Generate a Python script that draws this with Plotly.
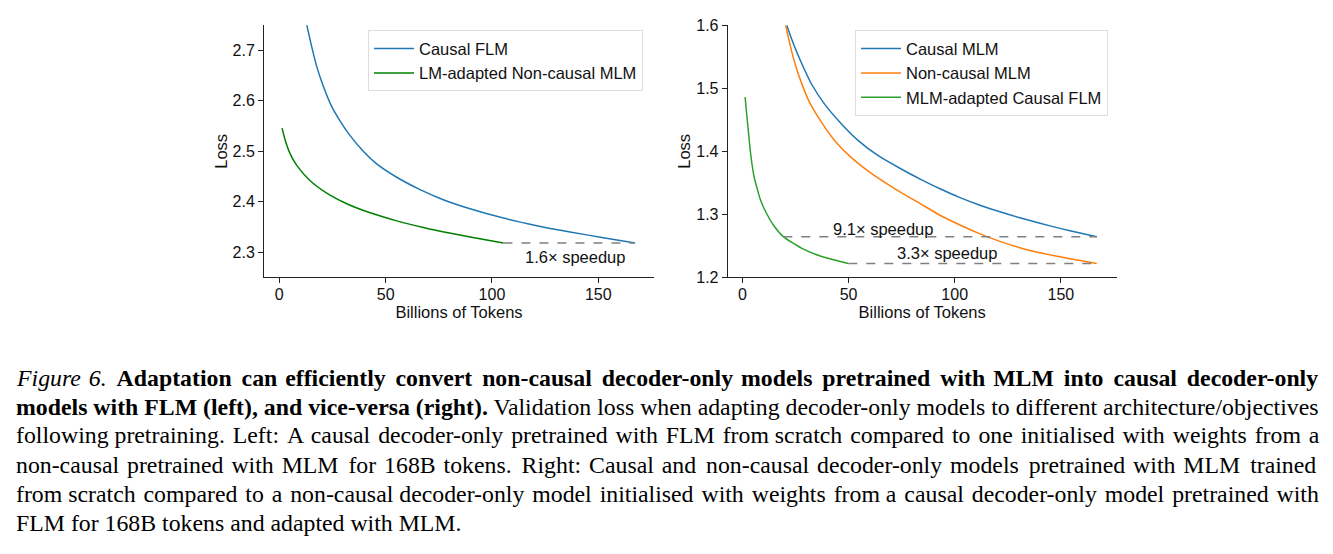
import plotly.graph_objects as go

# left panel: causal FLM vs LM-adapted non-causal MLM
left_flm_x = [12.9, 15.2, 17.6, 20.7, 24.6, 28.6, 33.3, 39.5, 45.8, 55.2, 66.2, 77.1, 89.7, 105.4, 121.1, 136.7, 152.4, 167.3]
left_flm_y = [2.751, 2.708, 2.668, 2.629, 2.589, 2.560, 2.531, 2.500, 2.475, 2.4485, 2.424, 2.404, 2.386, 2.3675, 2.3525, 2.340, 2.3285, 2.318]
left_ada_x = [1.3, 2.7, 5.0, 8.2, 14.4, 22.3, 31.7, 42.7, 55.2, 67.7, 80.0, 89.7, 105.4]
left_ada_y = [2.546, 2.523, 2.496, 2.472, 2.442, 2.417, 2.396, 2.378, 2.362, 2.349, 2.338, 2.330, 2.318]

# right panel: causal MLM, non-causal MLM, MLM-adapted causal FLM
right_cmlm_x = [20.9, 24.0, 28.0, 32.7, 38.9, 46.8, 54.6, 64.0, 75.0, 84.0, 93.1, 102.5, 111.9, 121.3, 130.7, 140.2, 149.6, 159.0, 166.9]
right_cmlm_y = [1.600, 1.571, 1.539, 1.506, 1.474, 1.443, 1.417, 1.393, 1.3715, 1.3555, 1.3405, 1.3265, 1.3145, 1.3040, 1.2945, 1.2857, 1.2777, 1.2703, 1.2645]
right_nmlm_x = [20.4, 22.5, 24.8, 28.0, 31.9, 37.4, 43.6, 51.5, 60.9, 71.9, 84.5, 93.1, 102.5, 111.9, 121.3, 130.7, 140.2, 149.6, 159.0, 166.9]
right_nmlm_y = [1.600, 1.5685, 1.539, 1.507, 1.476, 1.4455, 1.4165, 1.3895, 1.3645, 1.3405, 1.3155, 1.2985, 1.2830, 1.2690, 1.2570, 1.2470, 1.2390, 1.2325, 1.2267, 1.2220]
right_ada_x = [1.3, 2.0, 2.8, 3.6, 4.4, 5.5, 6.8, 8.5, 10.7, 14.6, 19.3, 28.0, 37.4, 49.9]
right_ada_y = [1.486, 1.460, 1.433, 1.405, 1.383, 1.360, 1.343, 1.323, 1.306, 1.283, 1.2645, 1.246, 1.233, 1.222]

x_ticks = [0, 50, 100, 150]
left_y_ticks = [2.3, 2.4, 2.5, 2.6, 2.7]
right_y_ticks = [1.2, 1.3, 1.4, 1.5, 1.6]

caption_lines = [
    "<i>Figure 6.</i> <b>Adaptation can efficiently convert non-causal decoder-only models pretrained with MLM into causal decoder-only</b>",
    "<b>models with FLM (left), and vice-versa (right).</b> Validation loss when adapting decoder-only models to different architecture/objectives",
    "following pretraining. Left: A causal decoder-only pretrained with FLM from scratch compared to one initialised with weights from a",
    "non-causal pretrained with MLM for 168B tokens. Right: Causal and non-causal decoder-only models pretrained with MLM trained",
    "from scratch compared to a non-causal decoder-only model initialised with weights from a causal decoder-only model pretrained with",
    "FLM for 168B tokens and adapted with MLM.",
]
# hair spaces added per line so the paragraph looks justified
caption_pad = [24, 0, 16, 21, 14, 0]
caption_y = [379, 408.3, 436.7, 466.7, 495.7, 525]

W, H = 1317, 538


def px(x):
    return (x - 8) / W


def py(y):
    return 1 - ((y - 15.7) / 0.972) / H


def spread(text, n):
    words = text.split(" ")
    gaps = len(words) - 1
    out = words[0]
    for i in range(gaps):
        extra = (i + 1) * n // gaps - i * n // gaps
        out += " " + "\u200a" * extra + words[i + 1]
    return out


font = "Liberation Sans, Arial, sans-serif"
spl = dict(width=1.5, shape="spline", smoothing=0.6)

fig = go.Figure()

fig.add_trace(go.Scatter(x=left_flm_x, y=left_flm_y, mode="lines", name="Causal FLM",
                         line=dict(color="#1f77b4", **spl), legend="legend"))
fig.add_trace(go.Scatter(x=left_ada_x, y=left_ada_y, mode="lines", name="LM-adapted Non-causal MLM",
                         line=dict(color="green", **spl), legend="legend"))
fig.add_trace(go.Scatter(x=[left_ada_x[-1], left_flm_x[-1]], y=[left_flm_y[-1]] * 2, mode="lines",
                         line=dict(color="gray", width=1.5, dash="dash"), showlegend=False))

fig.add_trace(go.Scatter(x=right_cmlm_x, y=right_cmlm_y, mode="lines", name="Causal MLM",
                         line=dict(color="#1f77b4", **spl), xaxis="x2", yaxis="y2", legend="legend2"))
fig.add_trace(go.Scatter(x=right_nmlm_x, y=right_nmlm_y, mode="lines", name="Non-causal MLM",
                         line=dict(color="#ff7f0e", **spl), xaxis="x2", yaxis="y2", legend="legend2"))
fig.add_trace(go.Scatter(x=right_ada_x, y=right_ada_y, mode="lines", name="MLM-adapted Causal FLM",
                         line=dict(color="#2ca02c", **spl), xaxis="x2", yaxis="y2", legend="legend2"))
fig.add_trace(go.Scatter(x=[right_ada_x[10], right_cmlm_x[-1]], y=[right_cmlm_y[-1]] * 2, mode="lines",
                         line=dict(color="gray", width=1.5, dash="dash"),
                         xaxis="x2", yaxis="y2", showlegend=False))
fig.add_trace(go.Scatter(x=[right_ada_x[-1], right_nmlm_x[-1]], y=[right_nmlm_y[-1]] * 2, mode="lines",
                         line=dict(color="gray", width=1.5, dash="dash"),
                         xaxis="x2", yaxis="y2", showlegend=False))

axis_style = dict(showline=True, linecolor="#222", linewidth=1, mirror=False, showgrid=False,
                  zeroline=False, ticks="outside", ticklen=5, tickcolor="#222",
                  tickfont=dict(size=16, color="#111", family=font))
legend_style = dict(xanchor="left", yanchor="top", bgcolor="white", bordercolor="#ddd",
                    borderwidth=1, font=dict(size=16.5), tracegroupgap=0, itemwidth=40)

fig.update_layout(
    width=W, height=H,
    margin=dict(l=0, r=0, t=0, b=0),
    paper_bgcolor="white", plot_bgcolor="white",
    font=dict(family=font, size=16, color="#111"),
    xaxis=dict(domain=[px(264), px(654)], range=[-7.2, 176.2], tickvals=x_ticks, anchor="y",
               ticklabelstandoff=-3,
               title=dict(text="Billions of Tokens", standoff=0, font=dict(size=16.5)), **axis_style),
    yaxis=dict(domain=[py(278), py(25)], range=[2.25, 2.75], tickvals=left_y_ticks, anchor="x",
               title=dict(text="Loss", standoff=0, font=dict(size=16.5)), **axis_style),
    xaxis2=dict(domain=[px(727.7), px(1116.7)], range=[-6.9, 176.3], tickvals=x_ticks, anchor="y2",
                ticklabelstandoff=-3,
                title=dict(text="Billions of Tokens", standoff=0, font=dict(size=16.5)), **axis_style),
    yaxis2=dict(domain=[py(278), py(25)], range=[1.2, 1.6], tickvals=right_y_ticks, anchor="x2",
                title=dict(text="Loss", standoff=1, font=dict(size=16.5)), **axis_style),
    legend=dict(x=px(368), y=py(30), **legend_style),
    legend2=dict(x=px(855), y=py(30), **legend_style),
)

fig.add_annotation(x=139, y=2.291, xref="x", yref="y", text="1.6× speedup", showarrow=False,
                   font=dict(size=16.5, color="#111"))
fig.add_annotation(x=66.4, y=1.277, xref="x2", yref="y2", text="9.1× speedup", showarrow=False,
                   font=dict(size=16.5, color="#111"))
fig.add_annotation(x=96.2, y=1.238, xref="x2", yref="y2", text="3.3× speedup", showarrow=False,
                   font=dict(size=16.5, color="#111"))

for txt, pad, yy in zip(caption_lines, caption_pad, caption_y):
    fig.add_annotation(x=px(14), y=py(yy), xref="paper", yref="paper", text=spread(txt, pad),
                       showarrow=False, xanchor="left", yanchor="middle",
                       font=dict(family="Liberation Serif, Times New Roman, serif", size=23.8, color="black"))

fig.write_html("out.html")
